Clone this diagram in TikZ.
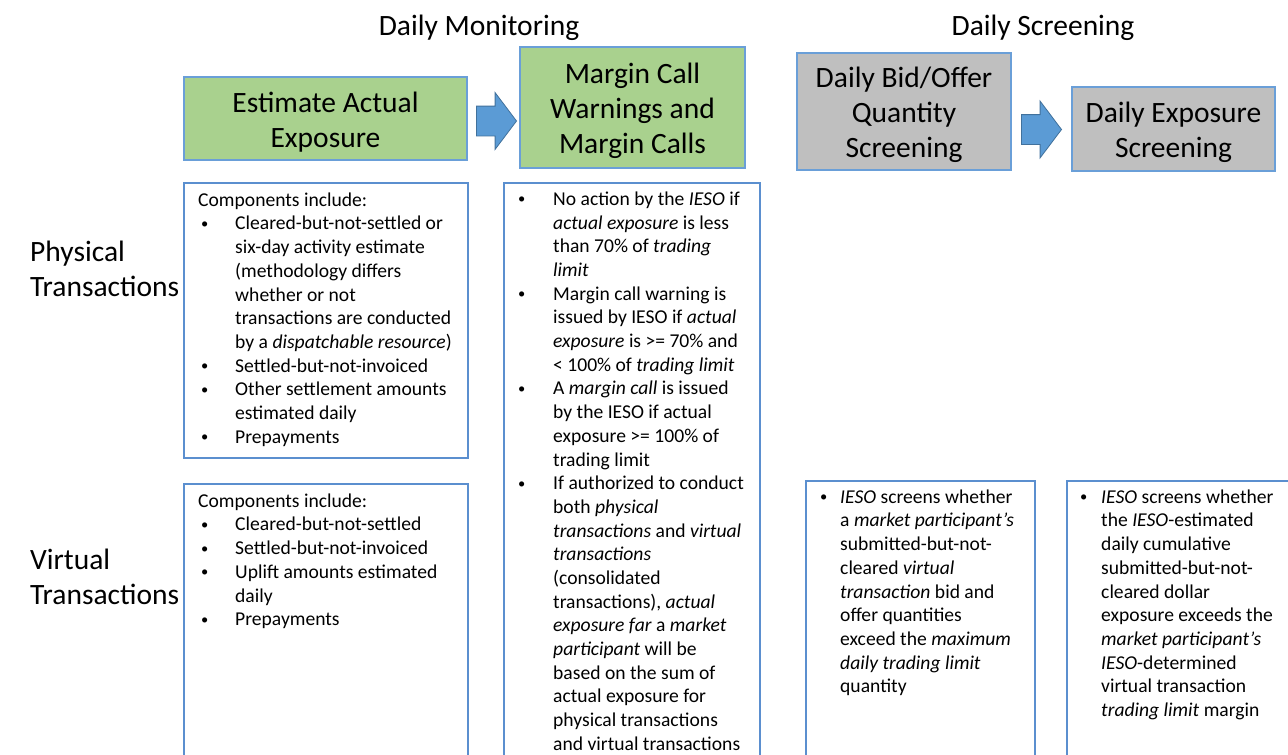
\documentclass[tikz,border=0pt]{standalone}
\usepackage{fontspec}
\setmainfont{Carlito}
\usetikzlibrary{shapes.arrows}
\definecolor{boxblue}{HTML}{6A9FD8}
\definecolor{txtblue}{HTML}{5B8FCF}
\definecolor{greenfill}{HTML}{A9D18E}
\definecolor{grayfill}{HTML}{BFBFBF}
\definecolor{arrowfill}{HTML}{5B9BD5}
\definecolor{arrowdark}{HTML}{41719C}
\newcommand\bdot{\raisebox{1.4pt}{\fontsize{14.5}{14.5}\selectfont\textbullet}}
\newcommand\itm[2]{\makebox[#2][l]{\hspace{#1}\bdot}}
\newcommand\cnt[1]{\hspace*{#1}}
\newcommand\tstrut{\rule{0pt}{27pt}}
\tikzset{
  titlebox/.style={draw=boxblue, line width=1.5pt, align=center, inner sep=0pt,
    font=\fontsize{29.5}{35}\selectfont},
  textbox/.style={draw=txtblue, line width=1.3pt, inner sep=0pt},
  body/.style={anchor=north west, inner sep=0pt, align=left,
    font=\fontsize{19.6}{23.7}\selectfont},
  bigtext/.style={inner sep=0pt, align=left, font=\fontsize{29.5}{35}\selectfont},
  blockarrow/.style={single arrow, fill=arrowfill, draw=arrowdark, line width=0.8pt,
    minimum height=40pt, inner xsep=0pt, inner ysep=14.5pt,
    single arrow head extend=13.5pt, single arrow tip angle=106, anchor=tip}
}
\begin{document}
\begin{tikzpicture}[x=1pt,y=-1pt]
\useasboundingbox (0,0) rectangle (1288,755);
\fill[white] (0,0) rectangle (1288,755);
\clip (0,0) rectangle (1288,755);

% headers
\node[bigtext, anchor=base] (hmon) at (479,35) {Daily Monitoring};
\node[bigtext, anchor=base] (hscr) at (1043,35) {Daily Screening};

% row labels
\node[bigtext, anchor=north west] (lphys) at (30,237) {\strut Physical\\Transactions};
\node[bigtext, anchor=north west] (lvirt) at (30,545) {\strut Virtual\\Transactions};

% title boxes
\node[titlebox, fill=greenfill, minimum width=283pt, minimum height=83pt] (est) at (325.5,118.5) {\tstrut Estimate Actual\\Exposure};
\node[titlebox, fill=greenfill, minimum width=225pt, minimum height=121pt] (mc) at (632.5,107.5) {\tstrut Margin Call\\Warnings and\\Margin Calls};
\node[titlebox, fill=grayfill, minimum width=214pt, minimum height=117pt] (bid) at (904,111.5) {\tstrut Daily Bid/Offer\\Quantity\\Screening};
\node[titlebox, fill=grayfill, minimum width=203pt, minimum height=84pt] (exps) at (1173.5,129) {\tstrut Daily Exposure\\Screening};

% block arrows
\node[blockarrow] (a1) at (517,121) {};
\node[blockarrow] (a2) at (1062,129.5) {};

% text boxes
\node[textbox, minimum width=284pt, minimum height=275pt] (phys) at (326,320.5) {};
\node[textbox, minimum width=284pt, minimum height=280pt] (virt) at (326,624) {};
\node[textbox, minimum width=256pt, minimum height=580pt] (mtext) at (632,473) {};
\node[textbox, minimum width=229pt, minimum height=290pt] (s1) at (920.5,626) {};
\node[textbox, minimum width=240pt, minimum height=290pt] (s2) at (1187,626) {};

% text contents
\node[body] (physt) at (198,189.5) {\strut Components include:\\
\itm{3pt}{37pt}Cleared-but-not-settled or\\
\cnt{37pt}six-day activity estimate\\
\cnt{37pt}(methodology differs\\
\cnt{37pt}whether or not\\
\cnt{37pt}transactions are conducted\\
\cnt{37pt}by a \textit{dispatchable resource})\\
\itm{3pt}{37pt}Settled-but-not-invoiced\\
\itm{3pt}{37pt}Other settlement amounts\\
\cnt{37pt}estimated daily\\
\itm{3pt}{37pt}Prepayments};

\node[body] (virtt) at (198,490.5) {\strut Components include:\\
\itm{3pt}{37pt}Cleared-but-not-settled\\
\itm{3pt}{37pt}Settled-but-not-invoiced\\
\itm{3pt}{37pt}Uplift amounts estimated\\
\cnt{37pt}daily\\
\itm{3pt}{37pt}Prepayments};

\node[body] (mtextt) at (517,188.5) {\strut\itm{1pt}{36pt}No action by the \textit{IESO} if\\
\cnt{36pt}\textit{actual exposure} is less\\
\cnt{36pt}than 70\% of \textit{trading}\\
\cnt{36pt}\textit{limit}\\
\itm{1pt}{36pt}Margin call warning is\\
\cnt{36pt}issued by IESO if \textit{actual}\\
\cnt{36pt}\textit{exposure} is >= 70\% and\\
\cnt{36pt}< 100\% of \textit{trading limit}\\
\itm{1pt}{36pt}A \textit{margin call} is issued\\
\cnt{36pt}by the IESO if actual\\
\cnt{36pt}exposure >= 100\% of\\
\cnt{36pt}trading limit\\
\itm{1pt}{36pt}If authorized to conduct\\
\cnt{36pt}both \textit{physical}\\
\cnt{36pt}\textit{transactions} and \textit{virtual}\\
\cnt{36pt}\textit{transactions}\\
\cnt{36pt}(consolidated\\
\cnt{36pt}transactions), \textit{actual}\\
\cnt{36pt}\textit{exposure far} a \textit{market}\\
\cnt{36pt}\textit{participant} will be\\
\cnt{36pt}based on the sum of\\
\cnt{36pt}actual exposure for\\
\cnt{36pt}physical transactions\\
\cnt{36pt}and virtual transactions};

\node[body] (s1t) at (819,486.5) {\strut\itm{1pt}{21pt}\textit{IESO} screens whether\\
\cnt{21pt}a \textit{market participant’s}\\
\cnt{21pt}submitted-but-not-\\
\cnt{21pt}cleared \textit{virtual}\\
\cnt{21pt}\textit{transaction} bid and\\
\cnt{21pt}offer quantities\\
\cnt{21pt}exceed the \textit{maximum}\\
\cnt{21pt}\textit{daily trading limit}\\
\cnt{21pt}quantity};

\node[body] (s2t) at (1079,486.5) {\strut\itm{1pt}{22pt}\textit{IESO} screens whether\\
\cnt{22pt}the \textit{IESO}-estimated\\
\cnt{22pt}daily cumulative\\
\cnt{22pt}submitted-but-not-\\
\cnt{22pt}cleared dollar\\
\cnt{22pt}exposure exceeds the\\
\cnt{22pt}\textit{market participant’s}\\
\cnt{22pt}\textit{IESO}-determined\\
\cnt{22pt}virtual transaction\\
\cnt{22pt}\textit{trading limit} margin};
\end{tikzpicture}
\end{document}
